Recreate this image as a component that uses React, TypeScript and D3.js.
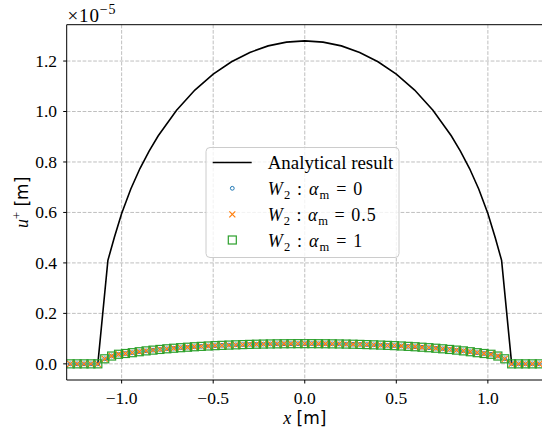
import React from "react";
import * as d3 from "d3";

// Analytical result (u+ in units of 1e-5 m)
const analyticX = [-1.13, -1.075, -1.04, -1.0, -0.95, -0.9, -0.85, -0.8, -0.7, -0.6, -0.5, -0.4, -0.3, -0.2, -0.1, 0,
  0.1, 0.2, 0.3, 0.4, 0.5, 0.6, 0.7, 0.8, 0.85, 0.9, 0.95, 1.0, 1.04, 1.075, 1.13];
const analyticU = [0, 0.41, 0.501, 0.596, 0.693, 0.774, 0.843, 0.904, 1.005, 1.085, 1.148, 1.197, 1.234, 1.26, 1.275, 1.28,
  1.275, 1.26, 1.234, 1.197, 1.148, 1.085, 1.005, 0.904, 0.843, 0.774, 0.693, 0.596, 0.501, 0.41, 0];

// Numerical nodes
const nodeX = [
  -1.2807, -1.243, -1.2053, -1.1677, -1.13, -1.0923, -1.0547, -1.017, -0.9793, -0.9417,
  -0.904, -0.8663, -0.8287, -0.791, -0.7533, -0.7157, -0.678, -0.6403, -0.6027, -0.565,
  -0.5273, -0.4897, -0.452, -0.4143, -0.3767, -0.339, -0.3013, -0.2637, -0.226, -0.1883,
  -0.1507, -0.113, -0.0753, -0.0377, 0, 0.0377, 0.0753, 0.113, 0.1507, 0.1883,
  0.226, 0.2637, 0.3013, 0.339, 0.3767, 0.4143, 0.452, 0.4897, 0.5273, 0.565,
  0.6027, 0.6403, 0.678, 0.7157, 0.7533, 0.791, 0.8287, 0.8663, 0.904, 0.9417,
  0.9793, 1.017, 1.0547, 1.0923, 1.13, 1.1677, 1.2053, 1.243, 1.2807,
];
const nodeU = [
  0, 0, 0, 0, 0, 0.02, 0.031, 0.038, 0.041, 0.0442,
  0.048, 0.0514, 0.0544, 0.0571, 0.0596, 0.0619, 0.064, 0.0659, 0.0677, 0.0693,
  0.0708, 0.0721, 0.0733, 0.0744, 0.0754, 0.0763, 0.0771, 0.0778, 0.0784, 0.0789,
  0.0793, 0.0796, 0.0798, 0.08, 0.08, 0.08, 0.0798, 0.0796, 0.0793, 0.0789,
  0.0784, 0.0778, 0.0771, 0.0763, 0.0754, 0.0744, 0.0733, 0.0721, 0.0708, 0.0693,
  0.0677, 0.0659, 0.064, 0.0619, 0.0596, 0.0571, 0.0544, 0.0514, 0.048, 0.0442,
  0.041, 0.038, 0.031, 0.02, 0, 0, 0, 0, 0,
];

const xTicks = [-1.0, -0.5, 0.0, 0.5, 1.0];
const yTicks = [0.0, 0.2, 0.4, 0.6, 0.8, 1.0, 1.2];
const legendLabels = ["0", "0.5", "1"];

const W = 542;
const H = 436;
const L = 66.7, R = 542.8, T = 24.7, B = 380;

const fmt = (v: number) => (v < 0 ? "\u2212" : "") + Math.abs(v).toFixed(1);

export default function App() {
  const x = d3.scaleLinear().domain([-1.3, 1.3]).range([L, R]);
  const y = d3.scaleLinear().domain([-0.064, 1.344]).range([B, T]);
  const line = d3.line<number>().x((_, i) => x(analyticX[i])).y((d) => y(d));
  const serif = "'Liberation Serif', 'DejaVu Serif', serif";
  const sans = "'DejaVu Sans', sans-serif";
  const grid = "#b8b8b8";
  const blue = "#1f77b4", orange = "#ff7f0e", green = "#2ca02c";

  const rowY = [162.5, 188.3, 214.3, 240];
  const rowLen = [94.5, 108, 94.5];

  return (
    <svg width={W} height={H} style={{ position: "absolute", left: 0, top: 0, background: "#fff" }}>
      <defs>
        <clipPath id="plotclip">
          <rect x={L} y={T} width={R - L} height={B - T} />
        </clipPath>
      </defs>
      {/* grid */}
      <g stroke={grid} strokeWidth={0.9} strokeDasharray="3.7,1.6">
        {xTicks.map((t) => (
          <line key={"gx" + t} x1={x(t)} x2={x(t)} y1={T} y2={B} />
        ))}
        {yTicks.map((t) => (
          <line key={"gy" + t} x1={L} x2={R} y1={y(t)} y2={y(t)} />
        ))}
      </g>
      {/* data */}
      <g clipPath="url(#plotclip)">
        <path d={line(analyticU) || ""} fill="none" stroke="#000" strokeWidth={1.6} />
        {nodeX.map((nx, i) => (
          <circle key={"c" + i} cx={x(nx)} cy={y(nodeU[i])} r={1.9} fill="none" stroke={blue} strokeWidth={1} />
        ))}
        {nodeX.map((nx, i) => {
          const cx = x(nx), cy = y(nodeU[i]), s = 3;
          return (
            <g key={"x" + i} stroke={orange} strokeWidth={1.2}>
              <line x1={cx - s} y1={cy - s} x2={cx + s} y2={cy + s} />
              <line x1={cx - s} y1={cy + s} x2={cx + s} y2={cy - s} />
            </g>
          );
        })}
        {nodeX.map((nx, i) => (
          <rect key={"s" + i} x={x(nx) - 4} y={y(nodeU[i]) - 4} width={8} height={8} fill="none" stroke={green} strokeWidth={1.2} />
        ))}
      </g>
      {/* spines */}
      <g stroke="#000" strokeWidth={1} fill="none">
        <line x1={L} x2={L} y1={T} y2={B} />
        <line x1={L} x2={W} y1={B} y2={B} />
        <line x1={L} x2={W} y1={T} y2={T} />
      </g>
      {/* ticks */}
      <g stroke="#000" strokeWidth={1}>
        {xTicks.map((t) => (
          <line key={"tx" + t} x1={x(t)} x2={x(t)} y1={B} y2={B + 3.5} />
        ))}
        {yTicks.map((t) => (
          <line key={"ty" + t} x1={L - 3.5} x2={L} y1={y(t)} y2={y(t)} />
        ))}
      </g>
      <g fontFamily={serif} fontSize={17.5} fill="#000">
        {xTicks.map((t) => (
          <text key={"lx" + t} x={x(t)} y={404} textAnchor="middle">{fmt(t)}</text>
        ))}
        {yTicks.map((t) => (
          <text key={"ly" + t} x={57} y={y(t) + 5.8} textAnchor="end">{fmt(t)}</text>
        ))}
      </g>
      {/* offset text */}
      <text x={67.5} y={21.5} fontFamily={serif} fontSize={19} fill="#000" textLength={48} lengthAdjust="spacing">
        <tspan>{"\u00d710"}</tspan>
        <tspan fontSize={14} dy={-7.5}>{"\u22125"}</tspan>
      </text>
      {/* axis labels */}
      <text x={x(0)} y={424} textAnchor="middle" fontSize={17}>
        <tspan fontFamily={serif} fontStyle="italic" fontSize={18}>x</tspan>
        <tspan fontFamily={sans}> [m]</tspan>
      </text>
      <text transform={`translate(28,${(T + B) / 2}) rotate(-90)`} textAnchor="middle" fontSize={17}>
        <tspan fontFamily={serif} fontStyle="italic" fontSize={18}>u</tspan>
        <tspan fontFamily={serif} fontSize={12.5} dy={-7}>+</tspan>
        <tspan fontFamily={sans} dy={7}> [m]</tspan>
      </text>
      {/* legend */}
      <rect x={206} y={147.5} width={193} height={110} rx={4} fill="#fff" fillOpacity={0.8} stroke="#cccccc" strokeWidth={1} />
      <line x1={212.7} x2={251.7} y1={rowY[0]} y2={rowY[0]} stroke="#000" strokeWidth={1.6} />
      <circle cx={232.3} cy={rowY[1]} r={1.9} fill="none" stroke={blue} strokeWidth={1} />
      <g stroke={orange} strokeWidth={1.2}>
        <line x1={229.3} y1={rowY[2] - 3} x2={235.3} y2={rowY[2] + 3} />
        <line x1={229.3} y1={rowY[2] + 3} x2={235.3} y2={rowY[2] - 3} />
      </g>
      <rect x={228.3} y={rowY[3] - 4} width={8} height={8} fill="none" stroke={green} strokeWidth={1.2} />
      <g fontFamily={serif} fontSize={18} fill="#000">
        <text x={267.7} y={rowY[0] + 6.5} textLength={125.5} lengthAdjust="spacingAndGlyphs">Analytical result</text>
        {legendLabels.map((lab, k) => (
          <text key={"lg" + lab} x={267.7} y={rowY[k + 1] + 6.5} textLength={rowLen[k]} lengthAdjust="spacing">
            <tspan fontStyle="italic">W</tspan>
            <tspan fontSize={12.5} dy={4}>2</tspan>
            <tspan dy={-4}>{" : "}</tspan>
            <tspan fontStyle="italic">α</tspan>
            <tspan fontSize={12.5} dy={4}>m</tspan>
            <tspan dy={-4}>{" = " + lab}</tspan>
          </text>
        ))}
      </g>
    </svg>
  );
}
